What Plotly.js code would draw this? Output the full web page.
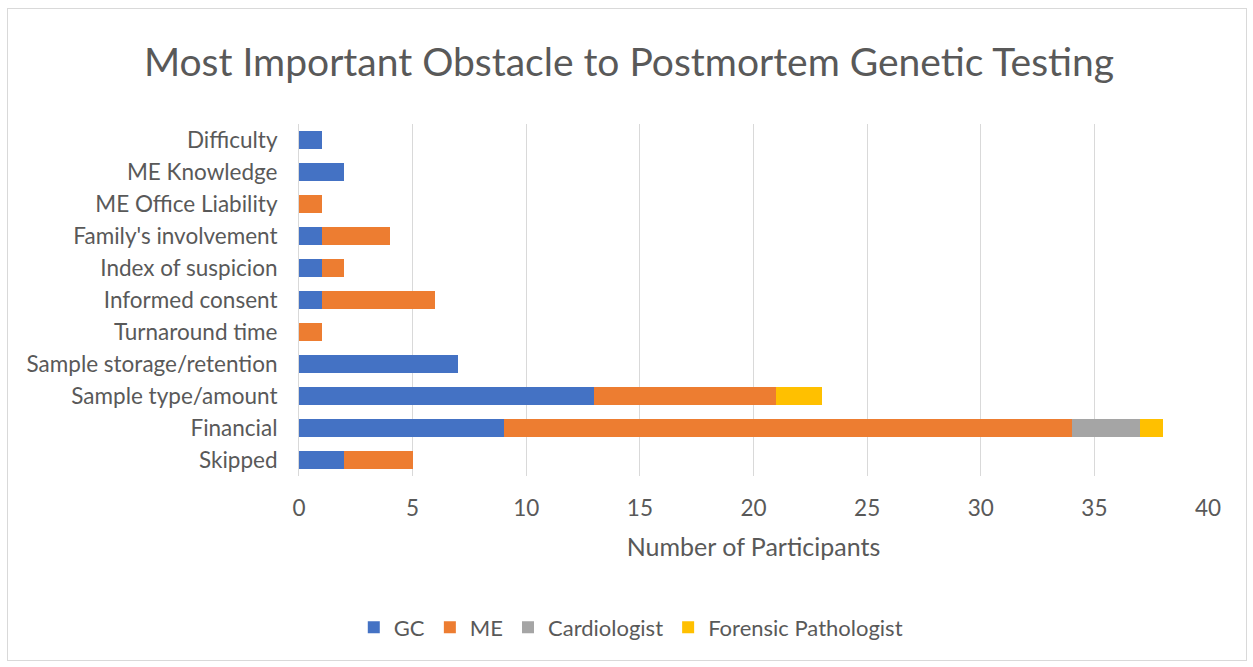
<!DOCTYPE html>
<html><head><meta charset="utf-8">
<script src="https://cdn.plot.ly/plotly-3.0.1.min.js"></script>
<style>body{margin:0;background:#fff}#c{width:1253px;height:667px;position:relative}#b{position:absolute;left:7px;top:8px;width:1238px;height:651px;border:1px solid #d9d9d9;pointer-events:none}</style>
</head><body><div id="c"></div><div id="b"></div>
<script>
const categories = ["Skipped","Financial","Sample type/amount","Sample storage/retention","Turnaround time","Informed consent","Index of suspicion","Family's involvement","ME Office Liability","ME Knowledge","Difficulty"];
const gc = [2,9,13,7,0,1,1,1,0,2,1];
const me = [3,25,8,0,1,5,1,3,1,0,0];
const cardiologist = [0,3,0,0,0,0,0,0,0,0,0];
const forensic = [0,1,2,0,0,0,0,0,0,0,0];
const seriesNames = ["GC","ME","Cardiologist","Forensic Pathologist"];
const colors = ["#4472C4","#ED7D31","#A5A5A5","#FFC000"];
const vals = [gc, me, cardiologist, forensic];
const traces = vals.map((v,i)=>({type:'bar',orientation:'h',y:categories,x:v,name:seriesNames[i],marker:{color:colors[i],line:{width:0}},hoverinfo:'x+y+name'}));
const font = "Lato, 'Open Sans', sans-serif";
const layout = {
  width:1253,height:667,barmode:'stack',bargap:0.45,
  paper_bgcolor:'#fff',plot_bgcolor:'#fff',
  margin:{l:299,r:45,t:124,b:191},
  font:{family:font,color:'#595959',size:22},
  title:{text:'Most Important Obstacle to Postmortem Genetic Testing',font:{size:39,color:'#595959',family:font},x:0.502,xref:'container',xanchor:'center',y:0.907,yanchor:'middle'},
  xaxis:{range:[0,40],dtick:5,showgrid:true,gridcolor:'#d9d9d9',gridwidth:1,zeroline:false,showline:false,ticks:'',tickfont:{size:22.5,color:'#595959'},ticklabelstandoff:16,
    title:{text:'Number of Participants',font:{size:25,color:'#595959'},standoff:18}},
  yaxis:{showgrid:false,zeroline:false,showline:true,linecolor:'#d9d9d9',ticks:'',tickfont:{size:22.5,color:'#595959'},ticklabelstandoff:16,categoryorder:'array',categoryarray:categories},
  legend:{orientation:'h',x:0.365,xanchor:'center',y:-0.43,yanchor:'middle',font:{size:22,color:'#595959'},traceorder:'normal'},
  showlegend:true
};
Plotly.newPlot('c',traces,layout,{displayModeBar:false,staticPlot:true});
</script></body></html>
